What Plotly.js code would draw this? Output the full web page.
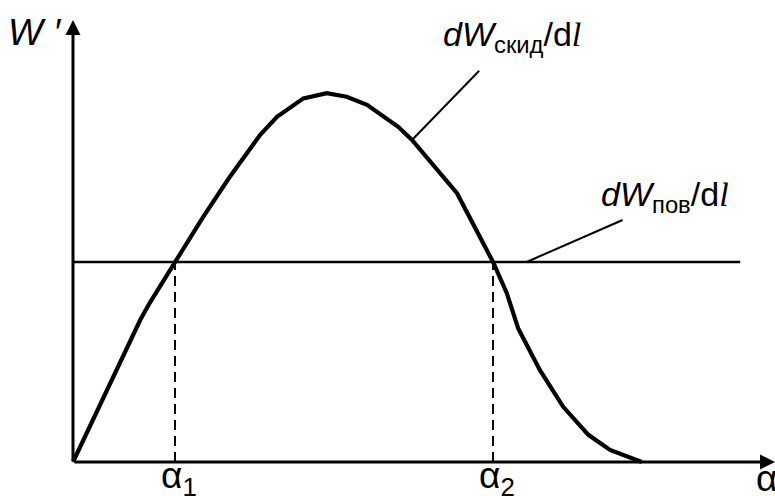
<!DOCTYPE html>
<html>
<head>
<meta charset="utf-8">
<script src="https://cdn.plot.ly/plotly-3.0.1.min.js"></script>
<style>
  body { margin: 0; background: #fff; }
  #chart { width: 775px; height: 496px; }
</style>
</head>
<body>
<div id="chart"></div>
<script>
'use strict'
// curve dW_skid/dl (alpha in arbitrary units)
const alpha = [0, 0.51, 1.12, 1.28, 1.7, 2.17, 2.6, 3.12, 3.40, 3.84, 4.23, 4.56, 4.90, 5.42, 5.65,
  6.40, 6.78, 7.0, 7.23, 7.42, 7.78, 8.17, 8.59, 8.95, 9.48];
const wSkid = [0, 1.63, 3.55, 3.98, 5.0, 6.13, 7.1, 8.18, 8.63, 9.09, 9.22, 9.13, 8.93, 8.38, 8.05,
  6.72, 5.63, 5.0, 4.22, 3.34, 2.30, 1.38, 0.68, 0.30, 0];
// dW_pov/dl is a constant level
const povX = [0, 11.12];
const povY = [5, 5];
// crossing points
const alpha1 = 1.7;
const alpha2 = 7.0;

let traces = [
  {x: alpha, y: wSkid, mode: 'lines', line: {color: '#000', width: 4.2}, hoverinfo: 'skip'},
  {x: povX, y: povY, mode: 'lines', line: {color: '#000', width: 2.5}, hoverinfo: 'skip'},
  {x: [alpha1, alpha1], y: [0, povY[0]], mode: 'lines', line: {color: '#000', width: 2, dash: '10px,6px'}, hoverinfo: 'skip'},
  {x: [alpha2, alpha2], y: [0, povY[0]], mode: 'lines', line: {color: '#000', width: 2, dash: '10px,6px'}, hoverinfo: 'skip'}
];

// the "l" in dl is a serif italic l
const ell = '<span style="font-family:Liberation Serif"><i>l</i></span>';
let layout = {
  width: 775, height: 496,
  margin: {l: 0, r: 0, t: 0, b: 0},
  paper_bgcolor: '#fff', plot_bgcolor: '#fff',
  showlegend: false,
  font: {family: 'Liberation Sans, Arial, sans-serif', color: '#000'},
  xaxis: {range: [-1.2167, 11.7], visible: false, fixedrange: true},
  yaxis: {range: [-0.85, 11.55], visible: false, fixedrange: true},
  shapes: [
    // leader lines for the labels
    {type: 'line', xref: 'x', yref: 'y', x0: 5.65, y0: 8.05, x1: 6.77, y1: 9.78, line: {color: '#000', width: 2}},
    {type: 'line', xref: 'x', yref: 'y', x0: 7.56, y0: 5.0, x1: 9.16, y1: 6.05, line: {color: '#000', width: 2}}
  ],
  annotations: [
    // axes with arrows
    {x: 0, y: 11.05, ax: 0, ay: 0, xref: 'x', yref: 'y', axref: 'x', ayref: 'y', showarrow: true,
      arrowhead: 2, arrowsize: 1, arrowwidth: 3, arrowcolor: '#000', text: ''},
    {x: 11.7, y: 0, ax: 0, ay: 0, xref: 'x', yref: 'y', axref: 'x', ayref: 'y', showarrow: true,
      arrowhead: 2, arrowsize: 1, arrowwidth: 3, arrowcolor: '#000', text: ''},
    // texts
    {x: -0.65, y: 10.75, xref: 'x', yref: 'y', showarrow: false, xanchor: 'center', yanchor: 'middle',
      text: '<i>W ′</i>', font: {size: 37}},
    {x: 6.13, y: 10.65, xref: 'x', yref: 'y', showarrow: false, xanchor: 'left', yanchor: 'middle',
      text: '<i>dW</i><sub>скид</sub>/d' + ell, font: {size: 34}},
    {x: 8.77, y: 6.65, xref: 'x', yref: 'y', showarrow: false, xanchor: 'left', yanchor: 'middle',
      text: '<i>dW</i><sub>пов</sub>/d' + ell, font: {size: 34}},
    {x: alpha1 + 0.06, y: -0.4, xref: 'x', yref: 'y', showarrow: false, xanchor: 'center', yanchor: 'middle',
      text: 'α<sub>1</sub>', font: {size: 37}},
    {x: alpha2 + 0.06, y: -0.4, xref: 'x', yref: 'y', showarrow: false, xanchor: 'center', yanchor: 'middle',
      text: 'α<sub>2</sub>', font: {size: 37}},
    {x: 11.35, y: -0.4, xref: 'x', yref: 'y', showarrow: false, xanchor: 'left', yanchor: 'middle',
      text: 'α', font: {size: 37}}
  ]
};

Plotly.newPlot(document.getElementById('chart'), traces, layout, {staticPlot: true});
</script>
</body>
</html>
